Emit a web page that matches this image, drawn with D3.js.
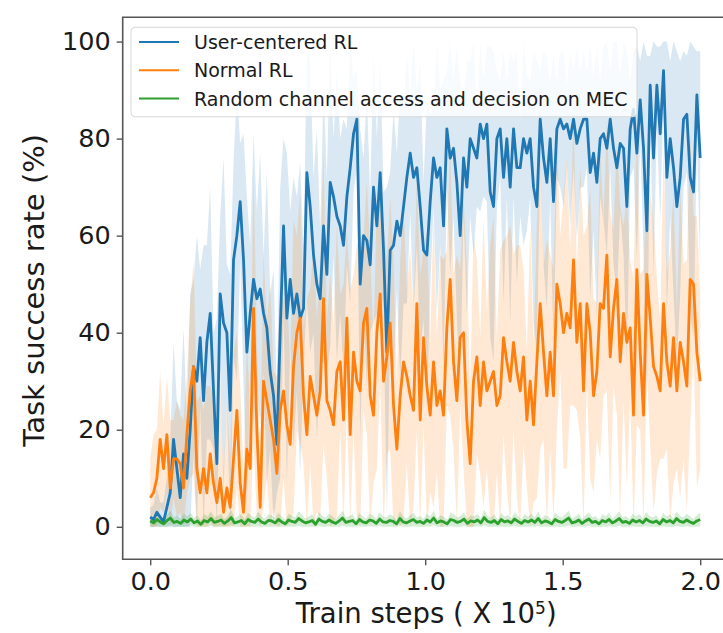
<!DOCTYPE html>
<html>
<head>
<meta charset="utf-8">
<script src="https://cdn.jsdelivr.net/npm/d3@7"></script>
<style>
html,body{margin:0;padding:0;background:#fff;}
svg{display:block;}
text{font-family:"DejaVu Sans",sans-serif;fill:#1a1a1a;}
</style>
</head>
<body>
<svg id="chart" width="723" height="633"></svg>
<script>
// ---- data ----
const xTicks = [0.0, 0.5, 1.0, 1.5, 2.0];
const yTicks = [0, 20, 40, 60, 80, 100];
const seriesNames = ["User-centered RL", "Normal RL", "Random channel access and decision on MEC"];

const blueRate = [2,1.5,3,2,1,4,7,18,12,6,15,10,20,33,30,39,26,38,44,28,13,48,42,40,24,55,60,67,55,36,44,51,47,49,44,41,32,27,17,40,62,43,51,44,48,43,45,73,66,56,50,47,62,52,71,68,64,62,58,68,74,81,84,50,60,59,54,70,62,73,57,36,57,58,63,60,66,72,77,72,74,66,57,56,67,76,72,74,62,82,76,78,71,60,76,70,80,78,76,83,80,83,69,66,80,82,72,80,70,82,74,74,80,77,80,70,66,84,76,71,80,67,82,84,82,83,80,84,79,82,84,84,73,77,71,80,81,78,84,78,74,79,78,66,82,86,77,88,78,61,91,76,91,81,94,72,80,74,66,72,84,85,72,69,89,76];
const blueSpread = [2,3,5,3,4,6,10,20,14,18,26,12,28,18,30,14,32,20,26,12,30,16,34,14,28,20,30,12,26,32,14,30,18,28,12,32,16,26,10,30,18,34,14,28,20,32,12,26,30,16,32,14,28,20,34,12,30,18,26,14,28,12,10,32,16,30,14,28,18,24,12,34,16,28,14,30,20,26,12,28,16,30,14,32,18,10,28,16,30,12,24,14,28,32,12,26,16,22,10,18,12,16,30,32,14,10,26,12,28,14,24,10,22,16,12,28,30,10,22,26,12,30,10,14,16,8,18,10,20,12,14,10,26,16,28,12,18,22,10,24,26,14,22,32,10,12,22,8,22,36,6,24,8,18,6,28,16,26,32,24,14,12,28,30,9,22];

const orangeRate = [6,7,10,18,12,19,8,14,14,13,8,19,28,33,12,7,12,7,15,9,5,10,3,8,4,14,24,9,3,16,12,45,20,4,30,26,22,18,11,24,28,21,17,33,40,43,27,19,31,27,23,28,47,26,24,21,32,34,22,43,19,36,30,28,42,45,27,23,40,48,30,35,42,25,16,27,34,31,27,24,46,22,39,29,23,34,25,28,23,41,51,34,26,39,40,22,13,30,35,25,34,28,30,32,25,27,39,34,30,38,32,28,35,22,30,21,34,46,36,27,36,27,50,46,40,44,41,55,38,46,28,46,40,27,32,46,45,56,35,45,51,34,44,38,41,23,53,36,23,52,43,33,31,28,46,34,29,39,28,38,34,29,51,50,36,30];
const orangeSpread = [8,12,10,14,9,12,14,8,12,10,14,12,18,22,14,20,12,22,14,18,10,20,8,18,10,22,16,20,8,22,12,28,18,10,26,16,28,14,20,26,18,28,16,30,20,26,14,28,18,30,20,26,30,16,28,20,30,14,28,18,30,16,28,32,18,26,30,14,28,18,32,20,26,30,14,28,32,18,30,20,26,30,18,32,16,30,14,28,32,16,28,18,30,14,28,32,16,30,20,14,30,16,28,32,14,30,20,26,32,18,26,30,18,14,32,16,28,30,18,32,20,26,30,14,28,32,16,30,14,28,32,16,30,20,14,32,18,28,30,16,28,32,18,30,14,28,32,16,30,20,26,30,20,14,32,18,28,30,16,32,20,26,30,14,28,18];

const greenRate = [1.2,0.8,1.5,1.0,0.6,1.3,1.8,0.9,1.1,0.7,1.4,1.0,1.6,0.8,1.2,0.5,1.3,1.0,1.7,0.9,1.1,1.4,0.7,1.2,1.9,0.8,1.0,1.3,0.6,1.5,1.1,0.9,1.6,1.0,0.7,1.3,1.2,0.8,1.5,1.0,0.6,1.4,1.1,0.9,1.7,1.2,0.8,1.0,1.3,0.5,1.6,1.1,0.9,1.4,1.0,0.7,1.2,1.8,0.9,1.1,1.3,0.6,1.5,1.0,0.8,1.4,1.2,0.7,1.6,1.0,0.9,1.3,1.1,0.6,1.7,1.0,0.8,1.2,1.5,0.9,1.1,0.7,1.4,1.0,1.8,0.8,1.2,1.0,0.6,1.5,1.3,0.9,1.1,1.6,0.7,1.2,1.0,1.4,0.8,1.9,1.1,0.9,1.3,0.6,1.5,1.0,1.2,0.8,1.6,1.1,0.7,1.3,1.0,1.4,0.9,1.7,0.8,1.2,1.0,0.6,1.5,1.1,0.9,1.3,1.8,0.8,1.0,1.4,0.7,1.2,1.6,0.9,1.1,0.6,1.3,1.0,1.5,0.8,1.2,1.7,0.9,1.1,0.7,1.4,1.0,1.3,0.8,1.6,1.1,0.9,1.2,0.6,1.5,1.0,1.3,0.8,1.7,1.1,0.9,1.4,1.0,0.7,1.2,1.5];
const greenSpread = [1.2,1.0,1.4,1.1,0.9,1.3,1.5,1.0,1.2,0.9,1.4,1.1,1.3,1.0,1.2,0.8,1.4,1.1,1.5,1.0,1.2,1.3,0.9,1.1,1.6,1.0,1.2,1.3,0.9,1.4,1.1,1.0,1.5,1.1,0.9,1.3,1.2,1.0,1.4,1.1,0.8,1.3,1.2,1.0,1.5,1.2,0.9,1.1,1.3,0.8,1.4,1.1,1.0,1.3,1.1,0.9,1.2,1.5,1.0,1.1,1.3,0.8,1.4,1.1,0.9,1.3,1.2,0.9,1.4,1.1,1.0,1.3,1.1,0.8,1.5,1.1,0.9,1.2,1.4,1.0,1.1,0.9,1.3,1.1,1.5,0.9,1.2,1.1,0.8,1.4,1.3,1.0,1.1,1.4,0.9,1.2,1.1,1.3,0.9,1.6,1.1,1.0,1.3,0.8,1.4,1.1,1.2,0.9,1.4,1.1,0.9,1.3,1.1,1.3,1.0,1.5,0.9,1.2,1.1,0.8,1.4,1.1,1.0,1.3,1.5,0.9,1.1,1.3,0.9,1.2,1.4,1.0,1.1,0.8,1.3,1.1,1.4,0.9,1.2,1.5,1.0,1.1,0.9,1.3,1.1,1.3,0.9,1.4,1.1,1.0,1.2,0.8,1.4,1.1,1.3,0.9,1.5,1.1,1.0,1.3,1.1,0.9,1.2,1.4];

const colors = ["#1f77b4", "#ff7f0e", "#2ca02c"];

// ---- layout ----
const svg = d3.select("#chart");
const pL = 122.7, pR = 727.7, pT = 17.3, pB = 559.3;
const x = d3.scaleLinear().domain([-0.1, 2.1]).range([pL, pR]);
const y = d3.scaleLinear().domain([-6.7, 105]).range([pB, pT]);

svg.append("defs").append("clipPath").attr("id", "plotclip")
  .append("rect").attr("x", pL).attr("y", pT).attr("width", pR - pL).attr("height", pB - pT);

const series = [
  {rate: blueRate, spread: blueSpread, color: colors[0], lw: 2.8, fa: 0.17},
  {rate: orangeRate, spread: orangeSpread, color: colors[1], lw: 2.8, fa: 0.18},
  {rate: greenRate, spread: greenSpread, color: colors[2], lw: 2.8, fa: 0.2}
];
series.forEach(s => {
  const n = s.rate.length;
  s.pts = s.rate.map((v, i) => ({t: i * 2 / (n - 1), v: v, lo: Math.max(0, v - s.spread[i]), hi: Math.min(100, v + s.spread[i])}));
});

const plot = svg.append("g").attr("clip-path", "url(#plotclip)");
const area = d3.area().x(d => x(d.t)).y0(d => y(d.lo)).y1(d => y(d.hi));
const line = d3.line().x(d => x(d.t)).y(d => y(d.v));

series.forEach(s => {
  plot.append("path").datum(s.pts).attr("d", area)
    .attr("fill", s.color).attr("fill-opacity", s.fa).attr("stroke", "none");
});
series.forEach(s => {
  plot.append("path").datum(s.pts).attr("d", line)
    .attr("fill", "none").attr("stroke", s.color).attr("stroke-width", s.lw)
    .attr("stroke-linejoin", "round");
});

// ---- axes ----
const axisColor = "#555";
const xAxis = svg.append("g").attr("transform", `translate(0,${pB})`)
  .call(d3.axisBottom(x).tickValues(xTicks).tickFormat(d3.format(".1f")).tickSize(6).tickPadding(5));
const yAxis = svg.append("g").attr("transform", `translate(${pL},0)`)
  .call(d3.axisLeft(y).tickValues(yTicks).tickFormat(d3.format("d")).tickSize(6).tickPadding(6));
[xAxis, yAxis].forEach(g => {
  g.select(".domain").remove();
  g.selectAll(".tick line").attr("stroke", axisColor).attr("stroke-width", 1.4);
  g.selectAll(".tick text").attr("fill", "#1a1a1a").style("font-size", "25.5px")
    .style("font-family", "'DejaVu Sans', sans-serif");
});
xAxis.selectAll(".tick text").attr("dy", "0.76em");

// spines (left, top, bottom; right lies outside the picture)
svg.append("path")
  .attr("d", `M${pR},${pT}H${pL}V${pB}H${pR}`)
  .attr("fill", "none").attr("stroke", axisColor).attr("stroke-width", 1.6);

// axis labels
const xl = svg.append("text").attr("x", (pL + pR) / 2 + 1).attr("y", 622.5)
  .attr("text-anchor", "middle").style("font-size", "27.5px");
xl.append("tspan").text("Train steps ( X 10");
xl.append("tspan").text("5").attr("dy", -9).style("font-size", "17px");
xl.append("tspan").text(")").attr("dy", 9);

svg.append("text").attr("transform", `translate(44,${(pT + pB) / 2 + 2}) rotate(-90)`)
  .attr("text-anchor", "middle").style("font-size", "29px")
  .text("Task success rate (%)");

// ---- legend ----
const lg = svg.append("g");
lg.append("rect").attr("x", 131).attr("y", 27.3).attr("width", 506).attr("height", 89.5)
  .attr("rx", 4).attr("fill", "#fff").attr("fill-opacity", 0.8)
  .attr("stroke", "#d6d6d6").attr("stroke-width", 1);
seriesNames.forEach((name, i) => {
  const cy = 42 + i * 28.3;
  lg.append("line").attr("x1", 139).attr("x2", 179).attr("y1", cy).attr("y2", cy)
    .attr("stroke", colors[i]).attr("stroke-width", 2);
  lg.append("text").attr("x", 194).attr("y", cy + 7).style("font-size", "19px").text(name);
});
</script>
</body>
</html>
